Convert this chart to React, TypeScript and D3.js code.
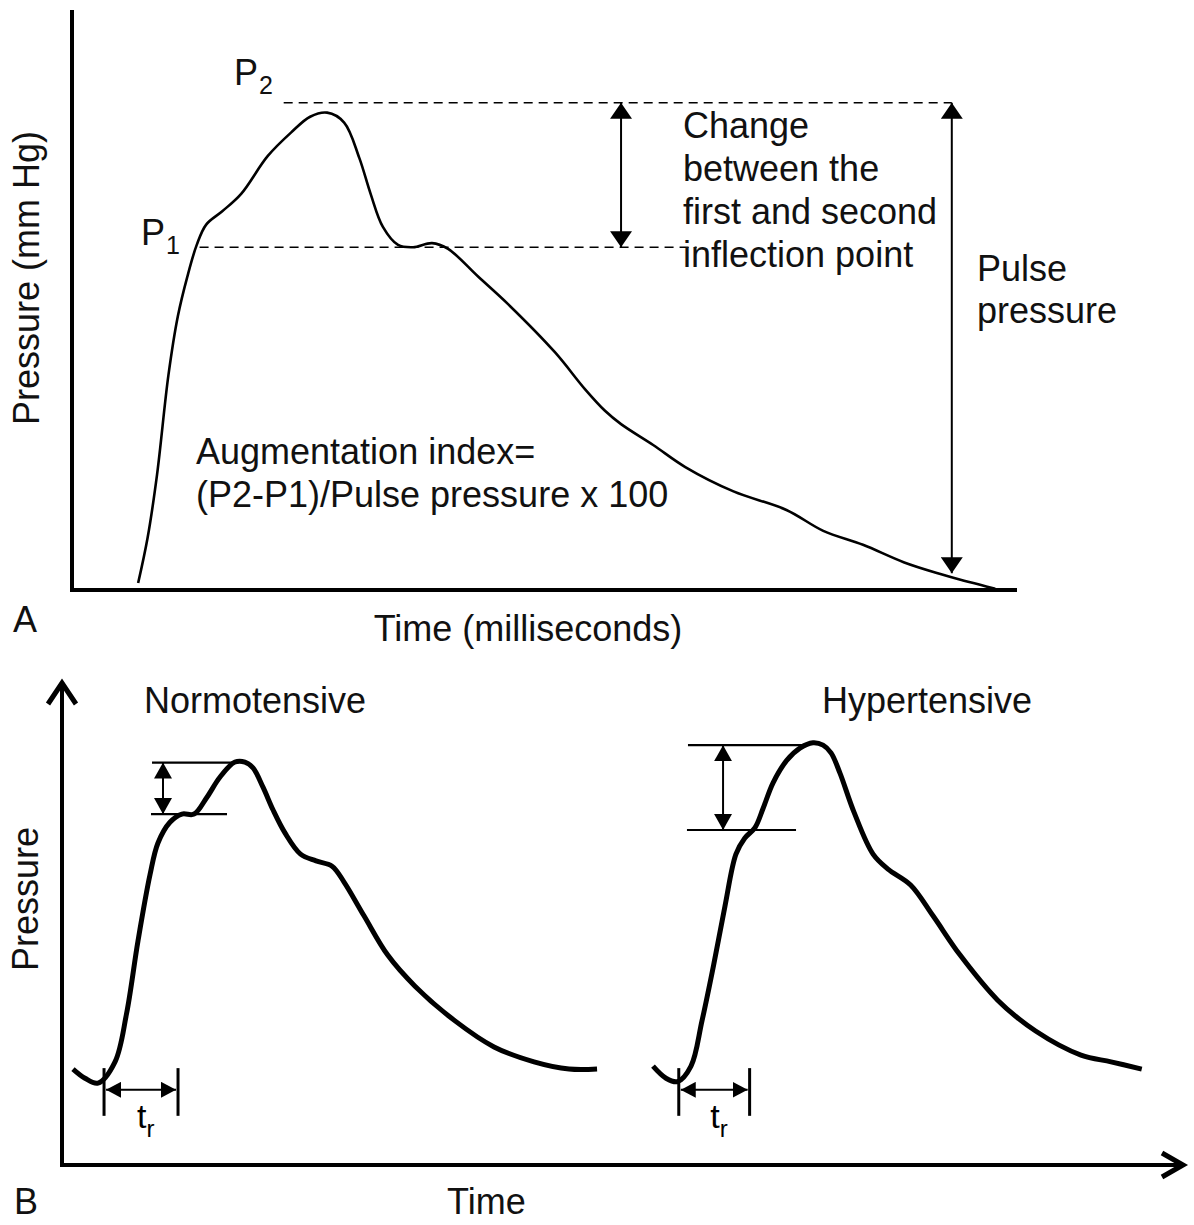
import React from 'react';
import * as d3 from 'd3';

// ---- Panel A: recorded radial pulse trace ----
const traceTime = [70, 80, 90, 102, 112, 122, 132, 142, 159, 179, 207, 232, 252, 270, 288, 304, 316, 329, 345, 361, 381, 398, 430, 462, 511, 543, 564, 581, 615, 649, 700, 756, 795, 837, 880, 918, 944, 961, 977];
const tracePressure = [1.2, 9, 19.9, 37, 47.2, 54, 59.5, 63, 65.3, 68.3, 74.8, 78.9, 81.6, 82.3, 80.6, 74.5, 68.3, 62.6, 59.5, 59.1, 59.8, 58.8, 54, 49.2, 41, 34.6, 30.9, 28.6, 25, 21.2, 17, 13.8, 10.2, 7.8, 4.8, 2.8, 1.6, 0.9, 0.2];

// levels: [P1, P2, baseline of pulse pressure arrow]
const levelsA = [59.1, 84, 2.9];
// dashed line extents (time): P1 line, P2 line
const p1Span = [135, 661];
const p2Span = [224, 931];
// arrow positions (time): inflection change, pulse pressure
const arrowTimesA = [581, 931];

const changeLines = ['Change', 'between the', 'first and second', 'inflection point'];
const pulseLines = ['Pulse', 'pressure'];
const aiLines = ['Augmentation index=', '(P2-P1)/Pulse pressure x 100'];

// ---- Panel B: schematic waveforms ----
const normoTime = [9.8, 20.5, 32.1, 47.3, 57.5, 67.8, 78.5, 85.6, 96.3, 107, 117.8, 129.3, 141, 154.3, 163.2, 170.4, 179.3, 188.2, 198.9, 212.8, 226.6, 240.9, 251.6, 269.4, 290.4, 314.9, 350.6, 385.4, 421.1, 452.3, 477.3];
const normoPressure = [19.9, 18, 17, 21.4, 31.3, 46.5, 60.2, 66.8, 71.1, 72.8, 72.8, 76.3, 80.5, 83.6, 83.6, 82.4, 78.4, 73.7, 68.9, 64.5, 63.1, 62, 58.7, 51.7, 43.6, 37.1, 29.9, 24.5, 21.4, 19.9, 19.9];

const hyperTime = [527.2, 538.8, 549.2, 561.1, 570.9, 581.3, 591.4, 601.2, 609, 618.2, 625.3, 634.3, 646.7, 658.3, 669.9, 678.9, 686, 694, 706.5, 723.5, 736.8, 757, 777, 801, 834.7, 868.5, 909, 935.8, 963.2];
const hyperPressure = [20.5, 18, 17.3, 20.5, 29.9, 41.5, 53.7, 64.5, 67.8, 70, 73.9, 79.3, 84, 86.5, 87.6, 87.1, 85.5, 81.3, 73.2, 64.5, 61.4, 58.1, 51.7, 43.6, 34.2, 27.8, 22.8, 21.4, 19.9];

// brackets: [topLevel, topStart, topEnd, bottomLevel, bottomStart, bottomEnd, arrowTime]
const normoBracket = [83.5, 80.3, 152.5, 72.8, 79.4, 147.2, 90.1];
const hyperBracket = [87.1, 558.4, 665.5, 69.5, 557.5, 654.8, 589.7];
// rise time ticks (time) and vertical extent / arrow level
const normoRise = [37.5, 103.5];
const hyperRise = [550.2, 613.4];
const riseLevels = [10.2, 20.1, 15.6];

const panelTitles = ['Normotensive', 'Hypertensive'];

const FONT = "'Liberation Sans', Arial, Helvetica, sans-serif";

const xA = d3.scaleLinear().domain([0, 1000]).range([72, 1017]);
const yA = d3.scaleLinear().domain([0, 100]).range([590, 10]);
const xB = d3.scaleLinear().domain([0, 1000]).range([62, 1183]);
const yB = d3.scaleLinear().domain([0, 100]).range([1165, 683]);

const lineA = d3.line<number>()
  .x((_, i) => xA(traceTime[i]))
  .y(d => yA(d))
  .curve(d3.curveCatmullRom.alpha(0.5));

const makeLineB = (times: number[]) => d3.line<number>()
  .x((_, i) => xB(times[i]))
  .y(d => yB(d))
  .curve(d3.curveCatmullRom.alpha(0.5));

const Bracket = ({ b }: { b: number[] }) => (
  <g stroke="#000">
    <line x1={xB(b[1])} x2={xB(b[2])} y1={yB(b[0])} y2={yB(b[0])} strokeWidth={2.2} />
    <line x1={xB(b[4])} x2={xB(b[5])} y1={yB(b[3])} y2={yB(b[3])} strokeWidth={2.2} />
    <line x1={xB(b[6])} x2={xB(b[6])} y1={yB(b[0])} y2={yB(b[3])} strokeWidth={2}
      markerStart="url(#headB)" markerEnd="url(#headB)" />
  </g>
);

const Rise = ({ r }: { r: number[] }) => {
  const mid = (xB(r[0]) + xB(r[1])) / 2;
  return (
    <g>
      {r.map((t, i) => (
        <line key={i} x1={xB(t)} x2={xB(t)} y1={yB(riseLevels[1])} y2={yB(riseLevels[0])}
          stroke="#000" strokeWidth={3} />
      ))}
      <line x1={xB(r[0]) + 2} x2={xB(r[1]) - 2} y1={yB(riseLevels[2])} y2={yB(riseLevels[2])}
        stroke="#000" strokeWidth={2} markerStart="url(#headR)" markerEnd="url(#headR)" />
      <text x={mid - 4} y={yB(riseLevels[0]) + 12} fontSize={34} fontFamily={FONT}>
        t<tspan fontSize={24} dy={9}>r</tspan>
      </text>
    </g>
  );
};

export default function App() {
  const [p1, p2, base] = levelsA;
  return (
    <svg width={1194} height={1225} style={{ position: 'absolute', left: 0, top: 0, background: '#fff' }}>
      <defs>
        <marker id="headA" markerUnits="userSpaceOnUse" viewBox="0 0 16 22" markerWidth={16} markerHeight={22}
          refX={16} refY={11} orient="auto-start-reverse">
          <path d="M0,0 L16,11 L0,22 Z" fill="#000" />
        </marker>
        <marker id="headB" markerUnits="userSpaceOnUse" viewBox="0 0 16 18" markerWidth={16} markerHeight={18}
          refX={16} refY={9} orient="auto-start-reverse">
          <path d="M0,0 L16,9 L0,18 Z" fill="#000" />
        </marker>
        <marker id="headR" markerUnits="userSpaceOnUse" viewBox="0 0 15 16" markerWidth={15} markerHeight={16}
          refX={15} refY={8} orient="auto-start-reverse">
          <path d="M0,0 L15,8 L0,16 Z" fill="#000" />
        </marker>
      </defs>

      {/* ---------- Panel A ---------- */}
      <path d={`M${xA(0)},${yA(100)} V${yA(0)} H${xA(1000)}`} fill="none" stroke="#000" strokeWidth={4}
        strokeLinejoin="miter" />
      <path d={lineA(tracePressure) || ''} fill="none" stroke="#000" strokeWidth={2.6} strokeLinejoin="round" />

      <line x1={xA(p2Span[0])} x2={xA(p2Span[1])} y1={yA(p2)} y2={yA(p2)} stroke="#000" strokeWidth={1.6}
        strokeDasharray="9,6" />
      <line x1={xA(p1Span[0])} x2={xA(p1Span[1])} y1={yA(p1)} y2={yA(p1)} stroke="#000" strokeWidth={1.6}
        strokeDasharray="9,6" />
      <line x1={xA(arrowTimesA[0])} x2={xA(arrowTimesA[0])} y1={yA(p2)} y2={yA(p1)} stroke="#000" strokeWidth={2}
        markerStart="url(#headA)" markerEnd="url(#headA)" />
      <line x1={xA(arrowTimesA[1])} x2={xA(arrowTimesA[1])} y1={yA(p2)} y2={yA(base)} stroke="#000" strokeWidth={2}
        markerStart="url(#headA)" markerEnd="url(#headA)" />

      <g fontFamily={FONT} fontSize={36} fill="#111">
        <text x={234} y={85}>P<tspan fontSize={25} dx={1} dy={9}>2</tspan></text>
        <text x={141} y={245}>P<tspan fontSize={25} dx={1} dy={9}>1</tspan></text>
        {changeLines.map((s, i) => (
          <text key={s} x={683} y={138 + i * 43}>{s}</text>
        ))}
        {pulseLines.map((s, i) => (
          <text key={s} x={977} y={281 + i * 42}>{s}</text>
        ))}
        {aiLines.map((s, i) => (
          <text key={s} x={196} y={464 + i * 43}>{s}</text>
        ))}
        <text transform="translate(39,278) rotate(-90)" textAnchor="middle">Pressure (mm Hg)</text>
        <text x={528} y={641} textAnchor="middle">Time (milliseconds)</text>
        <text x={13} y={632}>A</text>
      </g>

      {/* ---------- Panel B ---------- */}
      <path d={`M${xB(0)},${yB(100)} V${yB(0)} H${xB(1000)}`} fill="none" stroke="#000" strokeWidth={4} />
      <path d={`M${xB(0) - 14},${yB(100) + 21} L${xB(0)},${yB(100)} L${xB(0) + 14},${yB(100) + 21}`}
        fill="none" stroke="#000" strokeWidth={5} strokeLinejoin="miter" />
      <path d={`M${xB(1000) - 21},${yB(0) - 12} L${xB(1000)},${yB(0)} L${xB(1000) - 21},${yB(0) + 12}`}
        fill="none" stroke="#000" strokeWidth={5} strokeLinejoin="miter" />

      <path d={makeLineB(normoTime)(normoPressure) || ''} fill="none" stroke="#000" strokeWidth={5}
        strokeLinejoin="round" />
      <path d={makeLineB(hyperTime)(hyperPressure) || ''} fill="none" stroke="#000" strokeWidth={5}
        strokeLinejoin="round" />

      <Bracket b={normoBracket} />
      <Bracket b={hyperBracket} />
      <Rise r={normoRise} />
      <Rise r={hyperRise} />

      <g fontFamily={FONT} fontSize={36} fill="#111">
        <text x={144} y={713}>{panelTitles[0]}</text>
        <text x={822} y={713}>{panelTitles[1]}</text>
        <text transform="translate(38,899) rotate(-90)" textAnchor="middle">Pressure</text>
        <text x={447} y={1214}>Time</text>
        <text x={14} y={1214}>B</text>
      </g>
    </svg>
  );
}
